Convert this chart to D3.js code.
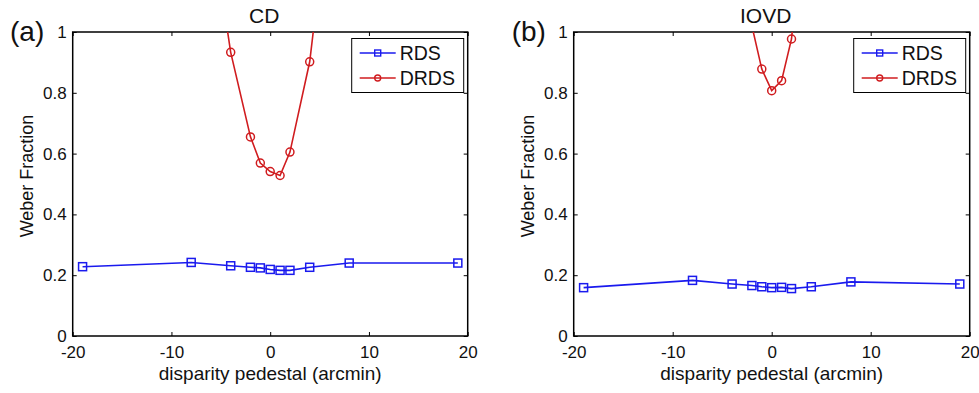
<!DOCTYPE html>
<html>
<head>
<meta charset="utf-8">
<script src="https://cdn.jsdelivr.net/npm/d3@7"></script>
<style>
  body { margin: 0; background: #fff; }
  svg { font-family: "Liberation Sans", Arial, sans-serif; }
</style>
</head>
<body>
<svg width="979" height="393"></svg>
<script>
// disparity pedestals (arcmin)
var xRDS = [-19, -8, -4, -2, -1, 0, 1, 2, 4, 8, 19];
var xDRDScd = [-8, -4, -2, -1, 0, 1, 2, 4, 8];
var xDRDSiovd = [-4, -2, -1, 0, 1, 2, 4];

// Weber fractions
var cdRDS = [0.228, 0.242, 0.231, 0.226, 0.224, 0.219, 0.216, 0.216, 0.226, 0.240, 0.240];
var cdDRDS = [1.80, 0.933, 0.655, 0.569, 0.541, 0.528, 0.605, 0.902, 2.0];
var iovdRDS = [0.159, 0.183, 0.171, 0.166, 0.162, 0.159, 0.160, 0.156, 0.162, 0.178, 0.171];
var iovdDRDS = [1.5, 1.02, 0.878, 0.807, 0.840, 0.977, 1.64];

var xTicks = [-20, -10, 0, 10, 20];
var yTicks = [0, 0.2, 0.4, 0.6, 0.8, 1];

var blue = "#1a1aee", red = "#d01c1f";

var svg = d3.select("svg");

var panels = [
  { id: "a", label: "(a)", title: "CD", x0: 72.7, x1: 467.7, labelX: 10, ylabX: 33,
    rds: cdRDS, drdsX: xDRDScd, drds: cdDRDS },
  { id: "b", label: "(b)", title: "IOVD", x0: 573.7, x1: 969.7, labelX: 511.7, ylabX: 533.5,
    rds: iovdRDS, drdsX: xDRDSiovd, drds: iovdDRDS }
];

var yTop = 32, yBot = 336;

panels.forEach(function(p) {
  var x = d3.scaleLinear().domain([-20, 20]).range([p.x0, p.x1]);
  var y = d3.scaleLinear().domain([0, 1]).range([yBot, yTop]);
  var cx = (p.x0 + p.x1) / 2;

  svg.append("clipPath").attr("id", "clip-" + p.id)
    .append("rect")
      .attr("x", p.x0).attr("y", yTop)
      .attr("width", p.x1 - p.x0).attr("height", yBot - yTop);

  // axes with inward ticks
  var fmt = function(d) { return String(d); };
  var gb = svg.append("g").attr("transform", "translate(0," + yBot + ")")
    .call(d3.axisBottom(x).tickValues(xTicks).tickFormat(fmt).tickSizeInner(-4).tickSizeOuter(0).tickPadding(10));
  var gl = svg.append("g").attr("transform", "translate(" + p.x0 + ",0)")
    .call(d3.axisLeft(y).tickValues(yTicks).tickFormat(fmt).tickSizeInner(-4).tickSizeOuter(0).tickPadding(6));
  var gt = svg.append("g").attr("transform", "translate(0," + yTop + ")")
    .call(d3.axisTop(x).tickValues(xTicks).tickFormat("").tickSizeInner(-4).tickSizeOuter(0));
  var gr = svg.append("g").attr("transform", "translate(" + p.x1 + ",0)")
    .call(d3.axisRight(y).tickValues(yTicks).tickFormat("").tickSizeInner(-4).tickSizeOuter(0));

  [gb, gl, gt, gr].forEach(function(g) {
    g.select(".domain").remove();
    g.selectAll("line").attr("stroke", "#000").attr("stroke-width", 1);
    g.selectAll("text").attr("fill", "#111").style("font-size", "17px")
      .style("font-family", "'Liberation Sans', Arial, sans-serif");
  });

  svg.append("rect")
    .attr("x", p.x0).attr("y", yTop)
    .attr("width", p.x1 - p.x0).attr("height", yBot - yTop)
    .attr("fill", "none").attr("stroke", "#000").attr("stroke-width", 1.5);

  // data
  var plot = svg.append("g").attr("clip-path", "url(#clip-" + p.id + ")");
  var line = d3.line().x(function(d) { return x(d[0]); }).y(function(d) { return y(d[1]); });

  var rdsPts = xRDS.map(function(v, i) { return [v, p.rds[i]]; });
  var drdsPts = p.drdsX.map(function(v, i) { return [v, p.drds[i]]; });

  plot.append("path").datum(drdsPts).attr("d", line)
    .attr("fill", "none").attr("stroke", red).attr("stroke-width", 1.6);
  plot.selectAll(".circ").data(drdsPts).enter().append("circle")
    .attr("cx", function(d) { return x(d[0]); })
    .attr("cy", function(d) { return y(d[1]); })
    .attr("r", 4).attr("fill", "none").attr("stroke", red).attr("stroke-width", 1.5)
    .attr("display", function(d) { return d[1] > 1 ? "none" : null; });

  plot.append("path").datum(rdsPts).attr("d", line)
    .attr("fill", "none").attr("stroke", blue).attr("stroke-width", 1.6);
  plot.selectAll(".sq").data(rdsPts).enter().append("rect")
    .attr("x", function(d) { return x(d[0]) - 4; })
    .attr("y", function(d) { return y(d[1]) - 4; })
    .attr("width", 8).attr("height", 8)
    .attr("fill", "none").attr("stroke", blue).attr("stroke-width", 1.5);

  // legend
  var lx = p.x1 - 116, ly = 38.5;
  var lg = svg.append("g");
  lg.append("rect").attr("x", lx).attr("y", ly).attr("width", 112).attr("height", 54)
    .attr("fill", "#fff").attr("stroke", "#000").attr("stroke-width", 1);
  var items = [{ name: "RDS", color: blue, sym: "sq", y: 53 }, { name: "DRDS", color: red, sym: "circ", y: 78 }];
  items.forEach(function(it) {
    lg.append("line").attr("x1", lx + 8).attr("x2", lx + 44)
      .attr("y1", it.y).attr("y2", it.y)
      .attr("stroke", it.color).attr("stroke-width", 1.6);
    if (it.sym === "sq") {
      lg.append("rect").attr("x", lx + 26 - 3).attr("y", it.y - 3).attr("width", 6).attr("height", 6)
        .attr("fill", "none").attr("stroke", it.color).attr("stroke-width", 1.4);
    } else {
      lg.append("circle").attr("cx", lx + 26).attr("cy", it.y).attr("r", 3)
        .attr("fill", "none").attr("stroke", it.color).attr("stroke-width", 1.4);
    }
    lg.append("text").attr("x", lx + 48).attr("y", it.y + 7)
      .style("font-size", "19.5px").attr("fill", "#111").text(it.name);
  });

  // titles and labels
  svg.append("text").attr("x", cx - 6).attr("y", 22.7).attr("text-anchor", "middle")
    .style("font-size", "21px").attr("fill", "#111").text(p.title);
  svg.append("text").attr("x", cx).attr("y", 380).attr("text-anchor", "middle")
    .style("font-size", "19px").attr("fill", "#111").text("disparity pedestal (arcmin)");
  svg.append("text").attr("transform", "translate(" + p.ylabX + ",176) rotate(-90)")
    .attr("text-anchor", "middle").style("font-size", "18px").attr("fill", "#111").text("Weber Fraction");
  svg.append("text").attr("x", p.labelX).attr("y", 41)
    .style("font-size", "28px").attr("fill", "#111").text(p.label);
});
</script>
</body>
</html>
